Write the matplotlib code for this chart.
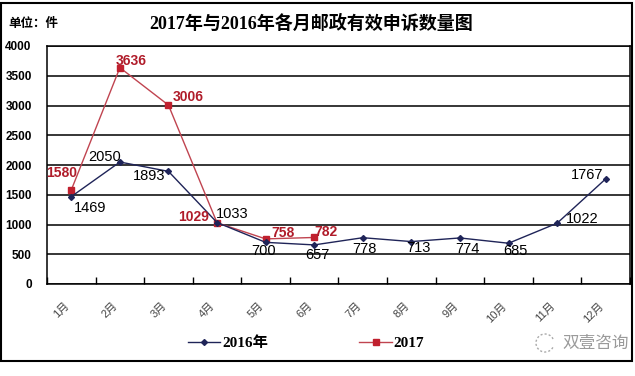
import numpy as np
import matplotlib
matplotlib.use('Agg')
import matplotlib.pyplot as plt
from matplotlib.patches import Rectangle, Arc

plt.rcParams['font.family'] = ['Liberation Sans', 'Noto Sans CJK SC']

# data
months = ['1月', '2月', '3月', '4月', '5月', '6月', '7月', '8月', '9月', '10月', '11月', '12月']
vals_2016 = [1469, 2050, 1893, 1033, 700, 657, 778, 713, 774, 685, 1022, 1767]
vals_2017 = [1580, 3636, 3006, 1029, 758, 782]

# label offsets in pixels (dx, dy)
off_2016 = [(19, -11), (-15, 5), (-19, -5), (15, 9), (-2, -9), (3, -10),
            (2, -11), (7, -6), (7, -11), (7, -8), (25, 4), (-19, 4)]
off_2017 = [(-10, 17), (11, 7), (20, 8), (-23, 6), (17, 6), (12, 5)]

c16 = '#1f2458'
c17 = '#c04450'
lab17 = '#b01c2a'
serif = ['Liberation Serif', 'Noto Sans CJK SC']

fig = plt.figure(figsize=(6.35, 3.76), dpi=100)
W, H = 635, 376
ax = fig.add_axes([47 / W, 1 - 284 / H, (630 - 47) / W, (284 - 46) / H])

x16 = np.arange(len(vals_2016))
x17 = np.arange(len(vals_2017))

ax.plot(x16, vals_2016, color=c16, lw=1.0, marker='D', ms=3, mfc=c16, mec=c16, zorder=4)
ax.plot(x17, vals_2017, color=c17, lw=1.0, marker='s', ms=4.5, mfc='#c0202e', mec='#c0202e', zorder=3)

for xi, v, (dx, dy) in zip(x16, vals_2016, off_2016):
    ax.annotate(str(v), (xi, v), xytext=(dx, dy), textcoords='offset pixels',
                ha='center', va='center', fontsize=10.5, color='black', zorder=6,
                annotation_clip=False)
for xi, v, (dx, dy) in zip(x17, vals_2017, off_2017):
    ax.annotate(str(v), (xi, v), xytext=(dx, dy), textcoords='offset pixels',
                ha='center', va='center', fontsize=10, color=lab17, fontweight='bold',
                zorder=6, annotation_clip=False)

ax.set_xlim(-0.5, 11.5)
ax.set_ylim(0, 4000)
ax.set_yticks(np.arange(0, 4001, 500))
ax.set_yticklabels([str(v) for v in range(0, 4001, 500)], fontweight='bold', fontsize=8.5)
ax.tick_params(axis='y', length=0, pad=11)
ax.yaxis.grid(True, color='black', lw=1.1)
ax.set_axisbelow(True)

ax.set_xticks(x16)
ax.set_xticklabels(months, rotation=45, ha='right', va='top', fontsize=8, color='#444444')
ax.tick_params(axis='x', length=0, pad=12)
ax.set_xticks(np.arange(-0.5, 12, 1), minor=True)
ax.tick_params(axis='x', which='minor', direction='in', length=5, width=1, color='black')

for s in ax.spines.values():
    s.set_color('black')
    s.set_linewidth(1.1)

# title and unit
fig.text(311 / W, 1 - 24 / H, '2017年与2016年各月邮政有效申诉数量图', ha='center', va='center',
         fontsize=13, fontweight='bold', family=serif)
fig.text(8 / W, 1 - 23 / H, '单位：件', ha='left', va='center', fontsize=9, fontweight='bold',
         family=['Noto Sans CJK SC'])

# legend
h16, = ax.plot([], [], color=c16, lw=1.0, marker='D', ms=3)
h17, = ax.plot([], [], color=c17, lw=1.0, marker='s', ms=4.5, mfc='#c0202e', mec='#c0202e')
fig.legend([h16, h17], ['2016年', '2017'], loc='center', bbox_to_anchor=(306 / W, 1 - 343 / H),
           ncol=2, frameon=False, handlelength=2.1, handletextpad=0.1, columnspacing=6.0,
           prop={'family': serif, 'weight': 'bold', 'size': 11})

# watermark
fig.text(596 / W, 1 - 343 / H, '双壹咨询', ha='center', va='center', fontsize=12,
         color='#9a9a9a', family=['Noto Sans CJK SC'])
arc = Arc((545 / W, 1 - 343 / H), 18 / W, 18 / H, theta1=40, theta2=320,
          transform=fig.transFigure, color='#aaaaaa', lw=1, ls=(0, (1.5, 1.5)))
fig.add_artist(arc)

# outer border
fig.add_artist(Rectangle((1 / W, 1 - 361 / H), 631 / W, 358 / H, transform=fig.transFigure,
                         fill=False, ec='black', lw=1.5))

fig.savefig('out.png', dpi=100)
